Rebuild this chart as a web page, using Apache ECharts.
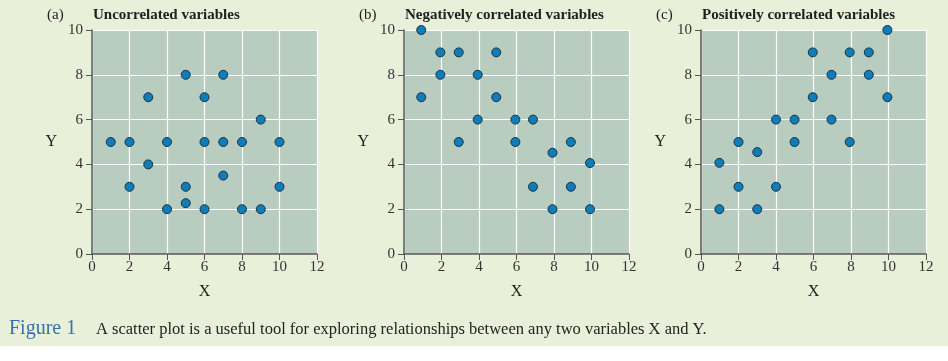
<!DOCTYPE html>
<html><head><meta charset="utf-8">
<script src="https://cdn.jsdelivr.net/npm/echarts@6/dist/echarts.min.js"></script>
<style>html,body{margin:0;padding:0;background:#fff}#c{width:948px;height:361px}</style>
</head><body><div id="c"></div>
<script>
const panelTitles = ['Uncorrelated variables', 'Negatively correlated variables', 'Positively correlated variables'];
const panelTags = ['(a)', '(b)', '(c)'];
const xTicks = [0, 2, 4, 6, 8, 10, 12];
const yTicks = [0, 2, 4, 6, 8, 10];
const uncorrelated = [[1,5],[2,5],[2,3],[3,7],[3,4],[4,5],[4,2],[5,8],[5,3],[5,2.27],[6,7],[6,5],[6,2],[7,8],[7,5],[7,3.5],[8,5],[8,2],[9,6],[9,2],[10,5],[10,3]];
const negative = [[0.92,10],[0.92,7],[1.94,9],[1.94,8],[2.92,9],[2.92,5],[3.93,8],[3.93,6],[4.92,9],[4.92,7],[5.94,6],[5.94,5],[6.88,6],[6.88,3],[7.92,4.52],[7.92,2],[8.9,5],[8.9,3],[9.92,4.06],[9.92,2]];
const positive = [[0.98,4.07],[0.98,2],[2,5],[2,3],[3,4.55],[3,2],[4,6],[4,3],[4.99,6],[4.99,5],[5.96,9],[5.96,7],[6.96,8],[6.96,6],[7.93,9],[7.93,5],[8.95,9],[8.95,8],[9.94,10],[9.94,7]];
const caption = 'A scatter plot is a useful tool for exploring relationships between any two variables X and Y.';

const serif = '"Liberation Serif", "DejaVu Serif", serif';
const lefts = [92, 404, 701];
const datasets = [uncorrelated, negative, positive];
const chart = echarts.init(document.getElementById('c'));
const grids = [], xAxes = [], yAxes = [], series = [], titles = [];
lefts.forEach((l, i) => {
  grids.push({left: l, top: 30, width: 225, height: 224, show: true, backgroundColor: '#B8CCBF', borderWidth: 0});
  xAxes.push({gridIndex: i, type: 'value', min: xTicks[0], max: xTicks[xTicks.length-1], interval: 2,
    name: 'X', nameLocation: 'middle', nameGap: 30,
    nameTextStyle: {fontFamily: serif, fontSize: 16, color: '#222'},
    axisLine: {show: true, onZero: false, lineStyle: {color: '#555', width: 1.5}},
    axisTick: {show: true, length: 6, lineStyle: {color: '#555'}},
    axisLabel: {fontFamily: serif, fontSize: 15, color: '#333', margin: 6},
    splitLine: {show: true, lineStyle: {color: '#ffffff', width: 1.2}}});
  yAxes.push({gridIndex: i, type: 'value', min: yTicks[0], max: yTicks[yTicks.length-1], interval: 2,
    name: 'Y', nameLocation: 'middle', nameGap: 35, nameRotate: 0,
    nameTextStyle: {fontFamily: serif, fontSize: 16, color: '#222'},
    axisLine: {show: true, onZero: false, lineStyle: {color: '#555', width: 1.5}},
    axisTick: {show: true, length: 6, lineStyle: {color: '#555'}},
    axisLabel: {fontFamily: serif, fontSize: 15, color: '#333', margin: 9},
    splitLine: {show: true, lineStyle: {color: '#ffffff', width: 1.2}}});
  series.push({type: 'scatter', xAxisIndex: i, yAxisIndex: i, data: datasets[i], symbolSize: 9,
    itemStyle: {color: '#0E7DB8', borderColor: '#1B3347', borderWidth: 1, opacity: 1}});
  titles.push({text: panelTags[i], left: l - 50, top: 3, textStyle: {fontFamily: serif, fontSize: 15, fontWeight: 'normal', color: '#222'}});
  titles.push({text: panelTitles[i], left: l - 4, top: 3, textStyle: {fontFamily: serif, fontSize: 15, fontWeight: 'bold', color: '#222'}});
});
titles.push({text: 'Figure 1', left: 4, top: 314, textStyle: {fontFamily: serif, fontSize: 20, fontWeight: 'normal', color: '#3A6FA8'}});
titles.push({text: caption, left: 91, top: 316, textStyle: {fontFamily: serif, fontSize: 16.5, fontWeight: 'normal', color: '#222'}});
chart.setOption({
  animation: false,
  title: titles,
  graphic: [{type: 'rect', z: -10, silent: true, shape: {x: 0, y: 0, width: 948, height: 346}, style: {fill: '#E8F0D9'}}],
  grid: grids, xAxis: xAxes, yAxis: yAxes, series: series
});
</script></body></html>
